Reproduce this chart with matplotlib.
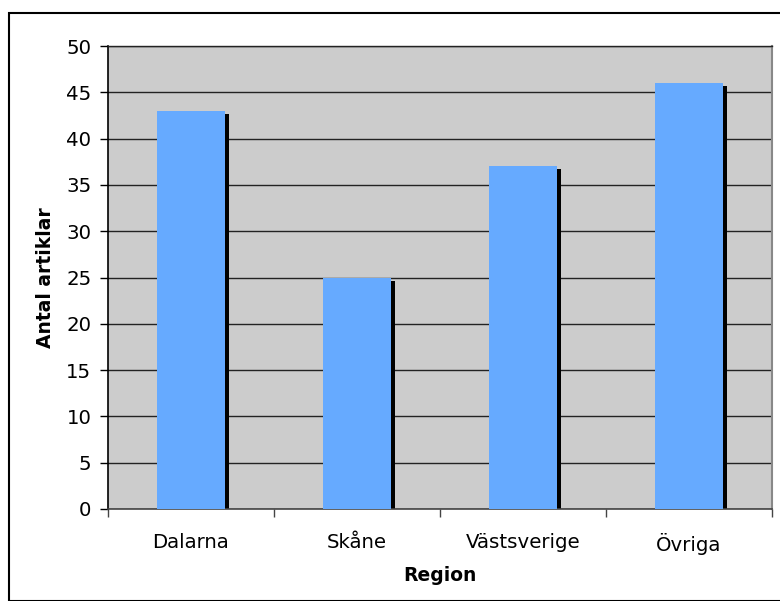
import matplotlib
matplotlib.use("Agg")
import matplotlib.pyplot as plt
from matplotlib.patches import Rectangle
import numpy as np

categories = ["Dalarna", "Skåne", "Västsverige", "Övriga"]
values = [43, 25, 37, 46]
yticks = [0, 5, 10, 15, 20, 25, 30, 35, 40, 45, 50]

W, H = 780, 601
fig = plt.figure(figsize=(W / 100, H / 100), dpi=100)
fig.patch.set_facecolor("white")

# outer border
fig.add_artist(Rectangle((9 / W, 0), 1.2, (H - 13) / H, transform=fig.transFigure,
                         fill=False, edgecolor="black", linewidth=1.5))

left, right, top, bottom = 108, 772, 46, 509
ax = fig.add_axes([left / W, 1 - bottom / H, (right - left) / W, (bottom - top) / H])
ax.set_facecolor("#CCCCCC")

x = np.arange(len(categories))
bw = 0.41
# shadows
sx = 4 / ((right - left) / 4)  # 4 px in data units
sy = 3 * 50 / (bottom - top)
ax.bar(x + sx, np.array(values) - sy, width=bw, color="black", zorder=2)
ax.bar(x, values, width=bw, color="#66AAFF", zorder=3)

ax.set_xlim(-0.5, len(categories) - 0.5)
ax.set_ylim(0, 50)
ax.set_yticks(yticks)
ax.yaxis.grid(True, color="#222222", linewidth=1.0, zorder=1)
ax.set_axisbelow(True)

fs = 14.2
ax.set_xticks(x)
ax.set_xticklabels(categories, fontsize=fs)
ax.set_xticks(np.arange(-0.5, len(categories)), minor=True)
ax.tick_params(axis="x", which="major", length=0, pad=17)
ax.tick_params(axis="x", which="minor", length=6, width=1, color="#444444")
ax.tick_params(axis="y", length=6, width=1, labelsize=fs, pad=6)

ax.spines["left"].set_color("black")
ax.spines["left"].set_linewidth(1.2)
ax.spines["bottom"].set_color("#444444")
ax.spines["bottom"].set_linewidth(1.2)
ax.spines["top"].set_color("#222222")
ax.spines["top"].set_linewidth(1.0)
ax.spines["right"].set_color("#888888")
ax.spines["right"].set_linewidth(1.5)

ax.set_ylabel("Antal artiklar", fontsize=13.5, fontweight="bold", labelpad=8)
ax.set_xlabel("Region", fontsize=13.5, fontweight="bold", labelpad=8)

fig.savefig("out.png", dpi=100)
